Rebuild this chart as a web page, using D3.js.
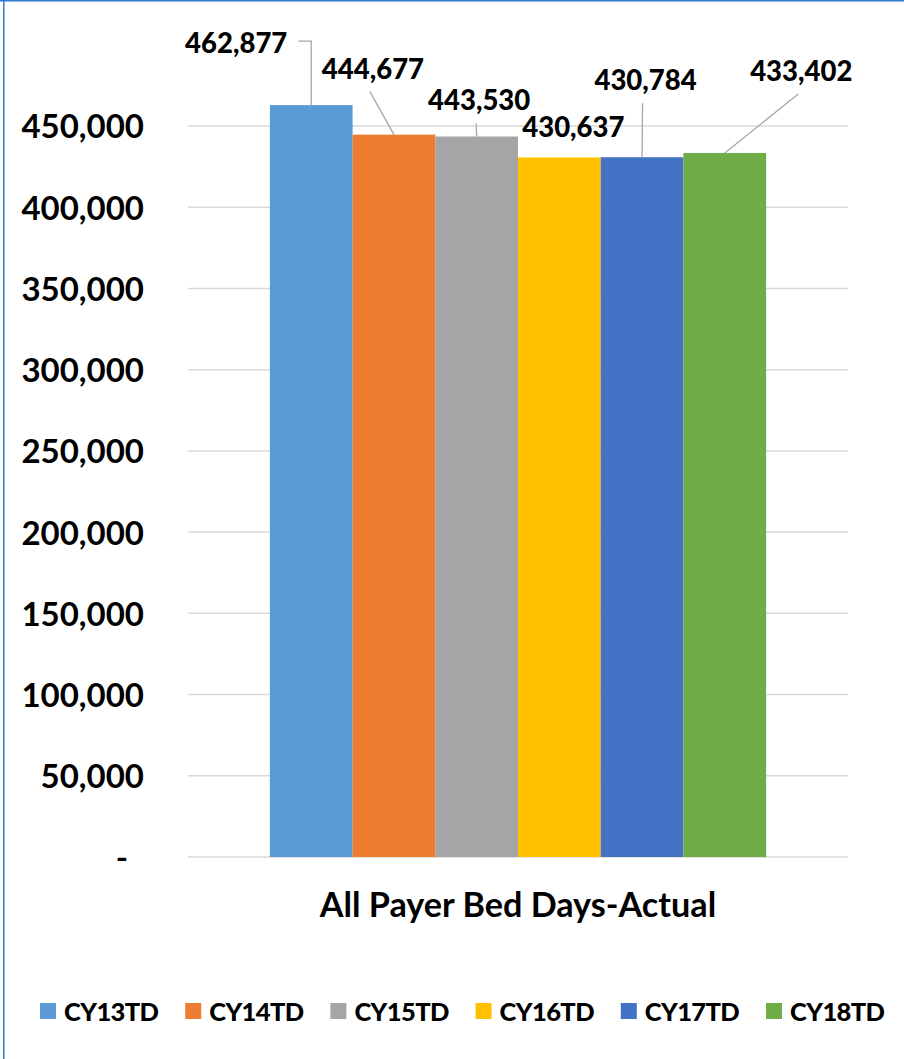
<!DOCTYPE html>
<html>
<head>
<meta charset="utf-8">
<script src="https://cdn.jsdelivr.net/npm/d3@7"></script>
<style>
  html, body { margin: 0; padding: 0; background: #fff; }
  svg { display: block; }
  svg text { font-family: Lato, "Open Sans", sans-serif; font-weight: 700; }
  svg text.heavy { font-weight: 900; }
</style>
</head>
<body>
<svg id="chart" width="904" height="1059"></svg>
<script>
// Series: one bar per calendar-year-to-date period
const seriesNames = ["CY13TD", "CY14TD", "CY15TD", "CY16TD", "CY17TD", "CY18TD"];
const seriesValues = [462877, 444677, 443530, 430637, 430784, 433402];
const seriesColors = ["#5b9bd5", "#ed7d31", "#a5a5a5", "#ffc000", "#4472c4", "#70ad47"];
const category = "All Payer Bed Days-Actual";
const yTicks = [0, 50000, 100000, 150000, 200000, 250000, 300000, 350000, 400000, 450000];

// Data-label placement relative to bar top-centre (dx, dy) and leader style
const labelOffsets = [
  { dx: -75, dy: -62, leader: "elbow" },
  { dx: -21, dy: -66, leader: "line" },
  { dx: 2.5, dy: -36, leader: "line" },
  { dx: 14, dy: -30, leader: "none" },
  { dx: 3.5, dy: -77, leader: "line" },
  { dx: 76.5, dy: -82, leader: "line" }
];

const svg = d3.select("#chart");
const W = 904, H = 1059;

// Outer frame
svg.append("line").attr("x1", 0).attr("x2", W).attr("y1", 0.75).attr("y2", 0.75)
  .attr("stroke", "#2e7ccc").attr("stroke-width", 1.5);
svg.append("line").attr("x1", 3.75).attr("x2", 3.75).attr("y1", 0).attr("y2", H)
  .attr("stroke", "#2e7ccc").attr("stroke-width", 1.5);

const plot = { left: 188, right: 848, top: 126, bottom: 857 };

const y = d3.scaleLinear().domain([0, 450000]).range([plot.bottom, plot.top]);
const x0 = d3.scaleBand().domain([category]).range([plot.left, plot.right]).paddingInner(0).paddingOuter(0.165);
const x1 = d3.scaleBand().domain(seriesNames).range([0, x0.bandwidth()]);

const fmt = d3.format(",");

// Gridlines
svg.append("g").selectAll("line").data(yTicks).join("line")
  .attr("x1", plot.left).attr("x2", plot.right)
  .attr("y1", d => y(d)).attr("y2", d => y(d))
  .attr("stroke", "#d9d9d9").attr("stroke-width", 1.5);

// Value axis
const yAxis = d3.axisLeft(y).tickValues(yTicks).tickSize(0).tickPadding(0)
  .tickFormat(d => d === 0 ? "-" : fmt(d));
const ya = svg.append("g").attr("transform", `translate(144,0)`).call(yAxis);
ya.select(".domain").remove();
ya.attr("font-family", null).attr("font-size", null);
ya.selectAll("text")
  .attr("font-size", 33).attr("fill", "#000").attr("dy", "0.36em")
  .attr("dx", d => d === 0 ? -16 : 0);

// Bars
const g = svg.append("g").attr("transform", `translate(${x0(category)},0)`);
g.selectAll("rect").data(seriesValues).join("rect")
  .attr("x", (d, i) => x1(seriesNames[i]))
  .attr("width", x1.bandwidth())
  .attr("y", d => y(d))
  .attr("height", d => y(0) - y(d))
  .attr("fill", (d, i) => seriesColors[i]);

// Data labels with leader lines
const labelSize = 27.5;
seriesValues.forEach((v, i) => {
  const cx = x0(category) + x1(seriesNames[i]) + x1.bandwidth() / 2;
  const top = y(v);
  const o = labelOffsets[i];
  const lx = cx + o.dx, ly = top + o.dy;
  const t = svg.append("text").attr("class", "heavy")
    .attr("x", lx).attr("y", ly).attr("dy", "0.36em")
    .attr("text-anchor", "middle")
    .attr("font-size", labelSize).attr("fill", "#000")
    .text(fmt(v));
  const bb = t.node().getBBox();
  const ls = svg.append("path").attr("fill", "none").attr("stroke", "#a6a6a6").attr("stroke-width", 1.3);
  if (o.leader === "elbow") {
    const sx = bb.x + bb.width + 11;
    ls.attr("d", `M${sx},${ly - 2}H${cx}V${top}`);
  } else if (o.leader === "line") {
    ls.attr("d", `M${lx - 3},${ly + 23}L${cx},${top}`);
  }
});

// Category axis title
svg.append("text")
  .attr("x", (plot.left + plot.right) / 2).attr("y", 917)
  .attr("text-anchor", "middle").attr("font-size", 34.2).attr("fill", "#000")
  .text(category);

// Legend
const legend = svg.append("g").selectAll("g").data(seriesNames).join("g")
  .attr("transform", (d, i) => `translate(${40 + i * 145.2},1003)`);
legend.append("rect").attr("width", 16).attr("height", 16)
  .attr("fill", (d, i) => seriesColors[i]);
legend.append("text").attr("class", "heavy").attr("x", 24).attr("y", 17.5)
  .attr("font-size", 25.5).attr("letter-spacing", -0.6).attr("fill", "#000").text(d => d);
</script>
</body>
</html>
